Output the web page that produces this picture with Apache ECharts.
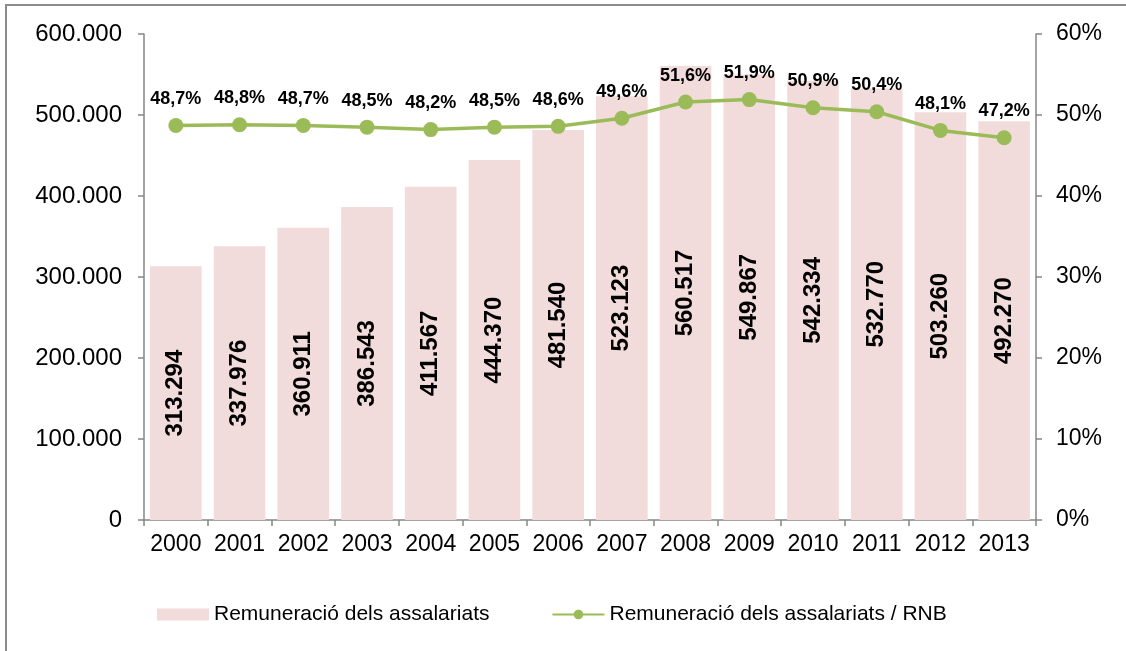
<!DOCTYPE html>
<html>
<head>
<meta charset="utf-8">
<script src="https://cdn.jsdelivr.net/npm/echarts@6/dist/echarts.min.js"></script>
<style>
  html, body { margin: 0; padding: 0; background: #fff; }
  #chart { width: 1126px; height: 651px; }
</style>
</head>
<body>
<div id="chart"></div>
<script>
// dades
var years = ['2000', '2001', '2002', '2003', '2004', '2005', '2006', '2007', '2008', '2009', '2010', '2011', '2012', '2013'];
var remuneracio = [313294, 337976, 360911, 386543, 411567, 444370, 481540, 523123, 560517, 549867, 542334, 532770, 503260, 492270];
var percentRNB = [48.7, 48.8, 48.7, 48.5, 48.2, 48.5, 48.6, 49.6, 51.6, 51.9, 50.9, 50.4, 48.1, 47.2];
var barName = 'Remuneració dels assalariats';
var lineName = 'Remuneració dels assalariats / RNB';

var font = 'Arial, "Liberation Sans", sans-serif';

// format 1.234.567
function fmtThousands(v) {
  return String(Math.round(v)).replace(/\B(?=(\d{3})+(?!\d))/g, '.');
}

var axisLine = { show: true, lineStyle: { color: '#868686', width: 1.5 } };
var axisTick = { show: true, length: 6, lineStyle: { color: '#868686', width: 1.5 } };

var chart = echarts.init(document.getElementById('chart'));
chart.setOption({
  animation: false,
  textStyle: { fontFamily: font },
  graphic: [{
    type: 'rect',
    shape: { x: 6, y: 5, width: 1200, height: 700 },
    style: { fill: 'none', stroke: '#8c8c8c', lineWidth: 2 },
    silent: true
  }],
  grid: { left: 144, right: 90, top: 34, bottom: 131 },
  legend: {
    top: 599,
    left: 152,
    itemGap: 62,
    itemWidth: 52,
    itemHeight: 12,
    textStyle: { fontSize: 21, color: '#000', fontFamily: font },
    data: [
      { name: barName, icon: 'rect' },
      { name: lineName }
    ]
  },
  xAxis: {
    type: 'category',
    data: years,
    axisLine: axisLine,
    axisTick: axisTick,
    axisLabel: { interval: 0, hideOverlap: false, fontSize: 23, color: '#000', margin: 13, fontFamily: font }
  },
  yAxis: [{
    type: 'value',
    min: 0,
    max: 600000,
    interval: 100000,
    axisLine: axisLine,
    axisTick: axisTick,
    splitLine: { show: false },
    axisLabel: { fontSize: 24, color: '#000', margin: 22, fontFamily: font, formatter: fmtThousands }
  }, {
    type: 'value',
    min: 0,
    max: 60,
    interval: 10,
    position: 'right',
    axisLine: axisLine,
    axisTick: axisTick,
    splitLine: { show: false },
    axisLabel: { fontSize: 23, color: '#000', margin: 20, fontFamily: font, formatter: '{value}%' }
  }],
  series: [{
    name: barName,
    type: 'bar',
    data: remuneracio,
    barCategoryGap: '19%',
    itemStyle: { color: '#f2dcdb' },
    label: {
      show: true,
      position: 'inside',
      rotate: 90,
      fontSize: 24,
      fontWeight: 'bold',
      color: '#000',
      fontFamily: font,
      formatter: function (p) { return fmtThousands(p.value); }
    }
  }, {
    name: lineName,
    type: 'line',
    yAxisIndex: 1,
    data: percentRNB,
    symbol: 'circle',
    symbolSize: 15,
    lineStyle: { color: '#9bbb59', width: 3.5 },
    itemStyle: { color: '#9bbb59' },
    label: {
      show: true,
      position: 'top',
      distance: 10,
      fontSize: 18,
      fontWeight: 'bold',
      color: '#000',
      fontFamily: font,
      formatter: function (p) { return p.value.toFixed(1).replace('.', ',') + '%'; }
    }
  }]
});
</script>
</body>
</html>
